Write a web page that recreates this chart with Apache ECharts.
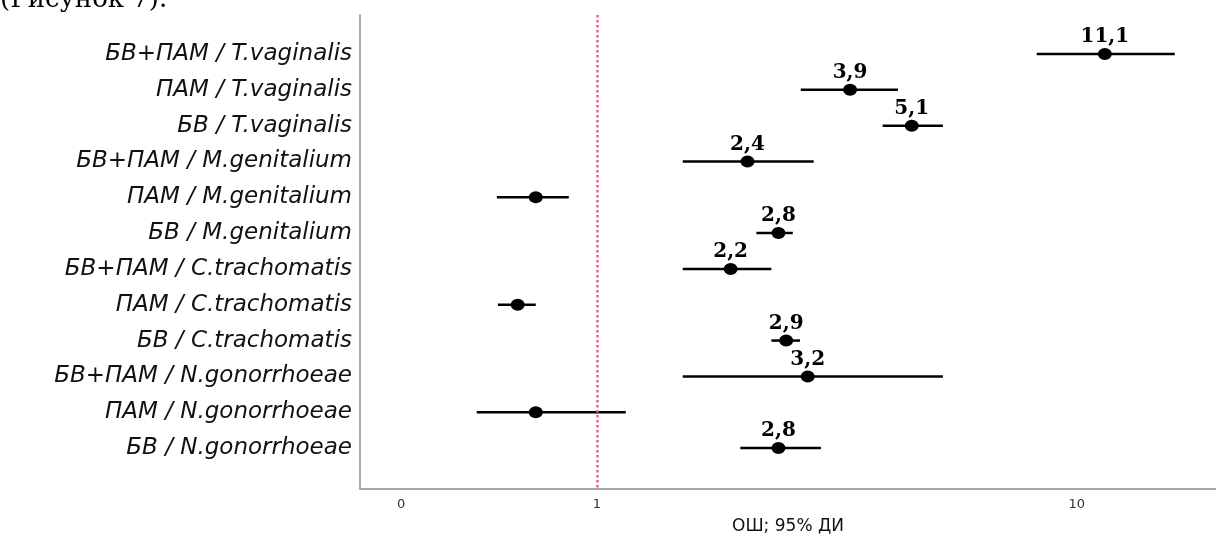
<!DOCTYPE html>
<html>
<head>
<meta charset="utf-8">
<script src="https://cdn.jsdelivr.net/npm/echarts@6/dist/echarts.min.js"></script>
<style>
html,body{margin:0;padding:0;background:#fff;}
#chart{width:1216px;height:543px;}
</style>
</head>
<body>
<div id="chart"></div>
<script>
// ---- data ----
const categories = [
  'БВ+ПАМ / T.vaginalis',
  'ПАМ / T.vaginalis',
  'БВ / T.vaginalis',
  'БВ+ПАМ / M.genitalium',
  'ПАМ / M.genitalium',
  'БВ / M.genitalium',
  'БВ+ПАМ / C.trachomatis',
  'ПАМ / C.trachomatis',
  'БВ / C.trachomatis',
  'БВ+ПАМ / N.gonorrhoeae',
  'ПАМ / N.gonorrhoeae',
  'БВ / N.gonorrhoeae'
];
const oddsRatio = [11.44, 3.37, 4.53, 2.06, 0.746, 2.39, 1.90, 0.684, 2.48, 2.75, 0.746, 2.39];
const ciLow     = [8.25, 2.66, 3.94, 1.51, 0.619, 2.15, 1.51, 0.622, 2.31, 1.51, 0.562, 1.99];
const ciHigh    = [16.0, 4.24, 5.26, 2.83, 0.874, 2.56, 2.31, 0.746, 2.65, 5.26, 1.149, 2.93];
const pointLabels = ['11,1', '3,9', '5,1', '2,4', '', '2,8', '2,2', '', '2,9', '3,2', '', '2,8'];
const xTickValues = [0.391, 1, 10];
const xTickLabels = ['0', '1', '10'];
const xAxisTitle = 'ОШ; 95% ДИ';
const captionText = '(Рисунок 7).';

// ---- chart ----
const chart = echarts.init(document.getElementById('chart'));
const rowIdx = categories.map((_, i) => i);

const option = {
  animation: false,
  backgroundColor: '#ffffff',
  graphic: [{
    type: 'text',
    x: 0, y: 0,
    style: {
      text: captionText,
      font: '26px "DejaVu Serif"',
      fill: '#000',
      textAlign: 'left',
      textVerticalAlign: 'middle'
    }
  }],
  grid: { left: 360, right: 0, top: 15, bottom: 54 },
  xAxis: {
    type: 'log',
    logBase: 10,
    min: 0.321,
    max: 19.5,
    name: xAxisTitle,
    nameLocation: 'middle',
    nameGap: 29,
    nameTextStyle: { fontFamily: 'DejaVu Sans', fontSize: 17, color: '#111' },
    axisLine: { show: true, onZero: false, lineStyle: { color: '#a8a8a8', width: 2 } },
    axisTick: { show: false },
    splitLine: { show: false },
    axisLabel: {
      customValues: xTickValues,
      margin: 9,
      fontFamily: 'DejaVu Sans',
      fontSize: 13,
      color: '#333',
      formatter: function (v) {
        let best = 0;
        xTickValues.forEach((t, i) => { if (Math.abs(Math.log(t) - Math.log(v)) < Math.abs(Math.log(xTickValues[best]) - Math.log(v))) best = i; });
        return xTickLabels[best];
      }
    }
  },
  yAxis: {
    type: 'value',
    inverse: true,
    min: -1.089,
    max: 12.144,
    axisLine: { show: true, onZero: false, lineStyle: { color: '#a8a8a8', width: 2 } },
    axisTick: { show: false },
    splitLine: { show: false },
    axisLabel: {
      customValues: rowIdx,
      margin: 8,
      fontFamily: 'DejaVu Sans',
      fontStyle: 'italic',
      fontSize: 23,
      color: '#111',
      formatter: function (v) { return categories[Math.round(v)] || ''; }
    }
  },
  series: [
    {
      type: 'custom',
      name: 'ci',
      data: rowIdx.map(i => [ciLow[i], ciHigh[i], i]),
      encode: { x: [0, 1], y: 2 },
      renderItem: function (params, api) {
        const p1 = api.coord([api.value(0), api.value(2)]);
        const p2 = api.coord([api.value(1), api.value(2)]);
        return {
          type: 'line',
          shape: { x1: p1[0], y1: p1[1], x2: p2[0], y2: p2[1] },
          style: { stroke: '#000', lineWidth: 2.5 }
        };
      },
      z: 2
    },
    {
      type: 'scatter',
      name: 'or',
      data: rowIdx.map(i => [oddsRatio[i], i]),
      symbol: 'circle',
      symbolSize: [14, 12],
      itemStyle: { color: '#000', opacity: 1 },
      label: {
        show: true,
        position: 'top',
        distance: 1,
        fontFamily: 'DejaVu Serif',
        fontWeight: 'bold',
        fontSize: 20,
        color: '#000',
        opacity: 1,
        formatter: function (p) { return pointLabels[p.dataIndex]; }
      },
      z: 3,
      markLine: {
        silent: true,
        symbol: ['none', 'none'],
        label: { show: false },
        lineStyle: { color: '#e3668a', width: 2.5, type: [2.5, 2.5], opacity: 1 },
        data: [{ xAxis: 1 }]
      }
    }
  ]
};
chart.setOption(option);
</script>
</body>
</html>
